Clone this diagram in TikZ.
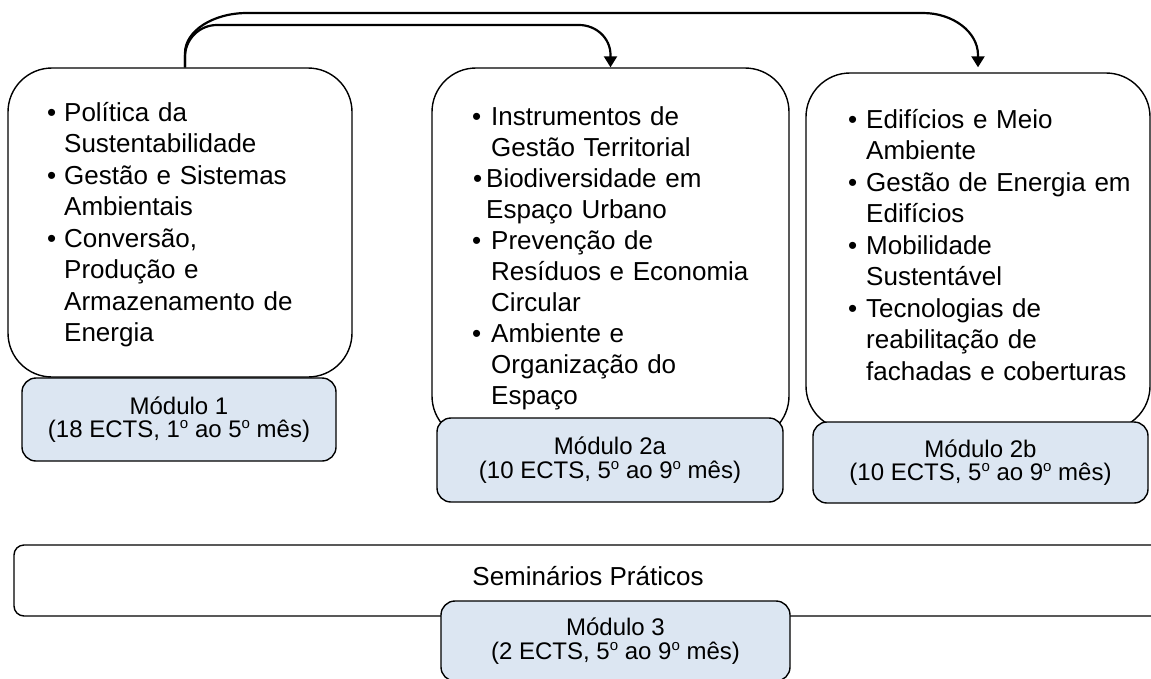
\documentclass[tikz,border=0pt]{standalone}
\usepackage{fontspec}
\setmainfont{Liberation Sans}
\usetikzlibrary{arrows.meta}
\definecolor{modfill}{RGB}{220,230,242}
\newcommand\bul[1][17pt]{\makebox[#1][l]{\textbullet}}
\newcommand\hng[1][17pt]{\hspace*{#1}}
\newcommand\ordo{\raisebox{9pt}{\fontsize{15}{15}\selectfont o}}
\begin{document}
\begin{tikzpicture}[x=1pt,y=-1pt,
  bigbox/.style={draw, line width=1.4pt, rounded corners=44pt, inner sep=0pt},
  modbox/.style={draw, line width=1.4pt, rounded corners=14pt, fill=modfill, inner sep=0pt,
    align=center, font=\fontsize{24}{23.5}\selectfont},
  listtext/.style={anchor=base west, inner sep=0pt, text width=330pt, align=left},
  conn/.style={line width=2.2pt, -{Triangle[width=13pt,length=11pt]}}]
\useasboundingbox (0,0) rectangle (1151,678);
\clip (0,0) rectangle (1151,678);
\fill[white] (0,0) rectangle (1151,678);

% content boxes
\node[bigbox, minimum width=344pt, minimum height=309pt] (b1) at (180,222.5) {};
\node[bigbox, minimum width=357pt, minimum height=372pt] (b2a) at (610.5,254) {};
\node[bigbox, minimum width=344pt, minimum height=357pt] (b2b) at (978,251.5) {};

% lists
\node[listtext, font=\fontsize{26}{31.5}\selectfont] (t1) at (47,121)
 {\bul Política da\\ \hng Sustentabilidade\\ \bul Gestão e Sistemas\\ \hng Ambientais\\
  \bul Conversão,\\ \hng Produção e\\ \hng Armazenamento de\\ \hng Energia};
\node[listtext, font=\fontsize{26}{31}\selectfont] (t2a) at (472,125)
 {\bul[19pt]Instrumentos de\\ \hng[19pt]Gestão Territorial\\
  \hspace*{1pt}\bul[13pt]Biodiversidade em\\ \hng[14pt]Espaço Urbano\\
  \bul[19pt]Prevenção de\\ \hng[19pt]Resíduos e Economia\\ \hng[19pt]Circular\\
  \bul[19pt]Ambiente e\\ \hng[19pt]Organização do\\ \hng[19pt]Espaço};
\node[listtext, font=\fontsize{26}{31.5}\selectfont] (t2b) at (848,128)
 {\bul[18pt]Edifícios e Meio\\ \hng[18pt]Ambiente\\ \bul[18pt]Gestão de Energia em\\ \hng[18pt]Edifícios\\
  \bul[18pt]Mobilidade\\ \hng[18pt]Sustentável\\ \bul[18pt]Tecnologias de\\ \hng[18pt]reabilitação de\\
  \hng[18pt]fachadas e coberturas};

% module boxes
\node[modbox, minimum width=314pt, minimum height=83pt] (m1) at (179,419.5)
 {Módulo 1\\(18 ECTS, 1\ordo\ ao 5\ordo\ mês)};
\node[modbox, minimum width=346pt, minimum height=84pt] (m2a) at (610,460)
 {Módulo 2a\\(10 ECTS, 5\ordo\ ao 9\ordo\ mês)};
\node[modbox, minimum width=335pt, minimum height=81pt] (m2b) at (980.5,462.5)
 {Módulo 2b\\(10 ECTS, 5\ordo\ ao 9\ordo\ mês)};

% seminars
\node[draw, line width=1.4pt, rounded corners=10pt, inner sep=0pt,
  minimum width=1148pt, minimum height=71pt, text height=19pt, text depth=9pt,
  font=\fontsize{26}{30}\selectfont] (sem) at (588,580.5) {Seminários Práticos};
\node[modbox, minimum width=349pt, minimum height=80pt] (m3) at (615.5,641)
 {Módulo 3\\(2 ECTS, 5\ordo\ ao 9\ordo\ mês)};

% connectors
\draw[conn] ([xshift=5pt]b1.north) -- (185,57) .. controls (185,39.3) and (199.3,25) .. (217,25)
  -- (579,25) .. controls (596,25) and (610.5,38) .. (610.5,55) -- (b2a.north);
\draw[conn] ([xshift=5pt]b1.north) -- (185,53) .. controls (185,31) and (213,13) .. (247,13)
  -- (923,13) .. controls (953,13) and (978,32) .. (978,55) -- ([yshift=5pt]b2b.north);
\end{tikzpicture}
\end{document}
